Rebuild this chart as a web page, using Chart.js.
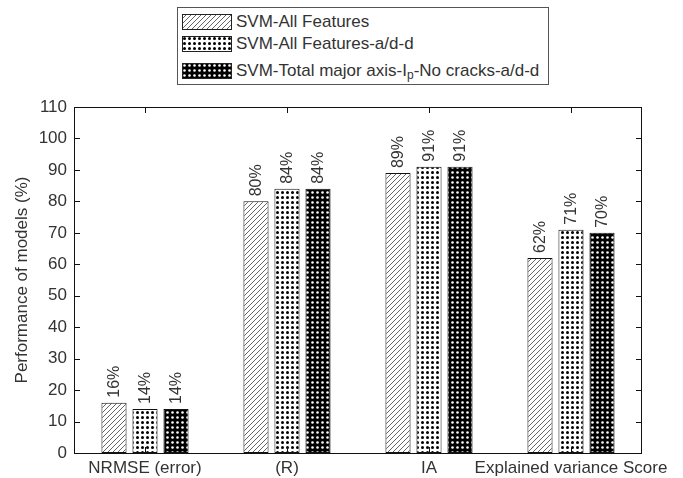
<!DOCTYPE html>
<html>
<head>
<meta charset="utf-8">
<script src="https://cdn.jsdelivr.net/npm/chart.js@4.4.1/dist/chart.umd.min.js"></script>
<style>
  html, body { margin: 0; padding: 0; background: #fff; }
  #wrap { position: relative; width: 683px; height: 478px; overflow: hidden; }
  #c { position: absolute; left: 0; top: 0; }
  #legend { position: absolute; left: 177px; top: 7px; width: 372px; height: 78px;
            border: 1px solid #555; box-sizing: border-box; background: #fff;
            font-family: "Liberation Sans", Arial, sans-serif; font-size: 17px; color: #333; }
  .row { position: absolute; left: 4px; height: 16px; }
  .row canvas { position: absolute; left: 0; top: 0; }
  .row span { position: absolute; left: 54px; top: -2px; white-space: nowrap; line-height: 20px; }
  .row sub { font-size: 12px; position: relative; top: 3px; vertical-align: baseline; }
</style>
</head>
<body>
<div id="wrap">
  <canvas id="c" width="683" height="478"></canvas>
  <div id="legend"></div>
</div>
<script>
// ---- data ----
const categories = ['NRMSE (error)', '(R)', 'IA', 'Explained variance Score'];
const seriesNames = ['SVM-All Features', 'SVM-All Features-a/d-d', 'SVM-Total major axis-I<sub>p</sub>-No cracks-a/d-d'];
const svmAllFeatures = [16, 80, 89, 62];
const svmAllFeaturesAdd = [14, 84, 91, 71];
const svmTotalMajorAxis = [14, 84, 91, 70];
const yMin = 0, yMax = 110, yStep = 10;
const yTitle = 'Performance of models (%)';

// ---- patterns ----
function makeTile(kind) {
  const t = document.createElement('canvas');
  if (kind === 'hatch') {
    t.width = 5; t.height = 5;
    const g = t.getContext('2d');
    g.fillStyle = '#fff'; g.fillRect(0, 0, 5, 5);
    g.strokeStyle = '#666'; g.lineWidth = 1;
    g.beginPath();
    g.moveTo(-1, 6); g.lineTo(6, -1);
    g.moveTo(-4, 4); g.lineTo(4, -4);
    g.moveTo(1, 9); g.lineTo(9, 1);
    g.stroke();
  } else if (kind === 'dots') {
    t.width = 5; t.height = 5;
    const g = t.getContext('2d');
    g.fillStyle = '#fff'; g.fillRect(0, 0, 5, 5);
    g.fillStyle = '#000';
    g.beginPath(); g.arc(2.5, 2.5, 1.5, 0, Math.PI * 2); g.fill();
  } else {
    t.width = 5; t.height = 5;
    const g = t.getContext('2d');
    g.fillStyle = '#000'; g.fillRect(0, 0, 5, 5);
    g.fillStyle = '#fff';
    g.beginPath(); g.arc(2.5, 2.5, 1.3, 0, Math.PI * 2); g.fill();
  }
  return t;
}
const kinds = ['hatch', 'dots', 'wdots'];
const ctx = document.getElementById('c').getContext('2d');
const patterns = kinds.map(k => ctx.createPattern(makeTile(k), 'repeat'));

// ---- legend (HTML) ----
const legendEl = document.getElementById('legend');
const rowTops = [6, 28, 55];
seriesNames.forEach((name, i) => {
  const row = document.createElement('div');
  row.className = 'row';
  row.style.top = rowTops[i] + 'px';
  const sw = document.createElement('canvas');
  sw.width = 50; sw.height = 16;
  const g = sw.getContext('2d');
  g.fillStyle = g.createPattern(makeTile(kinds[i]), 'repeat');
  g.fillRect(0, 0, 50, 16);
  g.strokeStyle = '#222'; g.lineWidth = 1;
  g.strokeRect(0.5, 0.5, 49, 15);
  row.appendChild(sw);
  const sp = document.createElement('span');
  sp.innerHTML = name;
  row.appendChild(sp);
  legendEl.appendChild(row);
});

// ---- plugins ----
const FONT = '"Liberation Sans", Arial, sans-serif';
const boxPlugin = {
  id: 'boxTicks',
  afterDraw(chart) {
    const { ctx, chartArea: a, scales } = chart;
    ctx.save();
    ctx.strokeStyle = '#111';
    ctx.lineWidth = 1;
    ctx.strokeRect(Math.round(a.left) + 0.5, Math.round(a.top) + 0.5,
                   Math.round(a.right - a.left) - 1, Math.round(a.bottom - a.top));
    ctx.beginPath();
    scales.y.ticks.forEach(t => {
      const y = Math.round(scales.y.getPixelForValue(t.value)) + 0.5;
      ctx.moveTo(a.left, y); ctx.lineTo(a.left + 6, y);
      ctx.moveTo(a.right, y); ctx.lineTo(a.right - 6, y);
    });
    categories.forEach((c, i) => {
      const x = Math.round(scales.x.getPixelForValue(i)) + 0.5;
      ctx.moveTo(x, a.top); ctx.lineTo(x, a.top + 6);
      ctx.moveTo(x, a.bottom); ctx.lineTo(x, a.bottom - 6);
    });
    ctx.stroke();
    ctx.restore();
  }
};
const labelPlugin = {
  id: 'valueLabels',
  afterDatasetsDraw(chart) {
    const { ctx } = chart;
    ctx.save();
    ctx.fillStyle = '#333';
    ctx.font = '16px ' + FONT;
    ctx.textAlign = 'left';
    ctx.textBaseline = 'middle';
    chart.data.datasets.forEach((ds, di) => {
      chart.getDatasetMeta(di).data.forEach((bar, i) => {
        ctx.save();
        ctx.translate(bar.x + 1, bar.y - 5);
        ctx.rotate(-Math.PI / 2);
        ctx.fillText(ds.data[i] + '%', 0, 0);
        ctx.restore();
      });
    });
    ctx.restore();
  }
};

new Chart(ctx, {
  type: 'bar',
  data: {
    labels: categories,
    datasets: [svmAllFeatures, svmAllFeaturesAdd, svmTotalMajorAxis].map((d, i) => ({
      label: seriesNames[i].replace(/<[^>]+>/g, ''),
      data: d,
      backgroundColor: patterns[i],
      borderColor: '#111',
      borderWidth: 1,
      borderSkipped: false,
      categoryPercentage: 0.655,
      barPercentage: 0.81
    }))
  },
  options: {
    responsive: false,
    animation: false,
    devicePixelRatio: 1,
    layout: { padding: { left: 0, top: 107, right: 41, bottom: 0 } },
    plugins: { legend: { display: false }, tooltip: { enabled: false } },
    scales: {
      x: {
        grid: { display: false, drawTicks: false },
        border: { display: false },
        ticks: { color: '#333', font: { family: FONT, size: 17 }, padding: 5, maxRotation: 0, autoSkip: false },
        afterFit(s) { s.height = 25; }
      },
      y: {
        min: yMin, max: yMax,
        grid: { display: false, drawTicks: false },
        border: { display: false },
        ticks: { stepSize: yStep, color: '#333', font: { family: FONT, size: 17 }, padding: 7 },
        title: { display: true, text: yTitle, color: '#333', font: { family: FONT, size: 17 }, padding: { top: 12, bottom: 0 } },
        afterFit(s) { s.width = 74; }
      }
    }
  },
  plugins: [labelPlugin, boxPlugin]
});
</script>
</body>
</html>
